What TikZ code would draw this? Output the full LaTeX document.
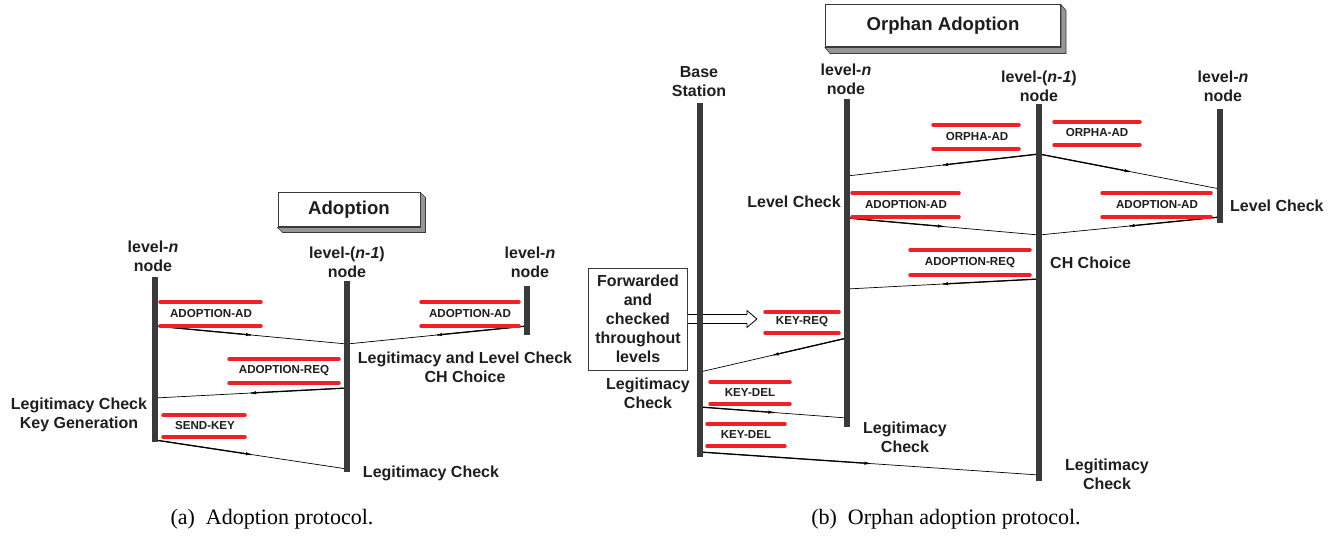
\documentclass[tikz,border=0pt]{standalone}
\usepackage{fontspec}
\setmainfont{Liberation Sans}
\newfontfamily\capfont{Liberation Serif}
\usepackage{tikz}
\usetikzlibrary{arrows.meta, positioning, decorations.markings, calc}
\definecolor{lifecolor}{RGB}{58,58,58}
\definecolor{barcolor}{RGB}{237,33,39}
\definecolor{inkcolor}{RGB}{30,30,30}
\definecolor{shadecolor}{RGB}{150,150,150}

\tikzset{
  lbl/.style={font=\bfseries\fontsize{16}{19}\selectfont, align=center, text=inkcolor, inner sep=0pt},
  msglbl/.style={font=\bfseries\fontsize{11.6}{13}\selectfont, text=inkcolor, inner sep=0pt},
  lifeline/.style={draw=lifecolor, line width=6.5pt},
  redbar/.style={draw=barcolor, line width=3.5pt, line cap=round},
  msg/.style={draw=black, line width=0.7pt, postaction={decorate},
    decoration={markings, mark=at position 0.5 with {\arrow{Latex[length=5pt,width=3.5pt]}}}},
  msgbold/.style={draw=black, line width=1.3pt},
  titlebox/.style={draw=lifecolor, line width=1pt, fill=white, text=inkcolor,
    font=\bfseries\fontsize{18.6}{22}\selectfont},
  boxshade/.style={fill=shadecolor, draw=lifecolor, line width=0.6pt},
  caption/.style={font=\capfont\fontsize{22}{26}\selectfont, inner sep=0pt}
}

% message: thin line, bolder up to the arrowhead
\newcommand{\sendmsg}[2]{%
  \draw[msg] (#1) -- (#2);
  \draw[msgbold] (#1) -- ($(#1)!0.5!(#2)$);}

\begin{document}
\begin{tikzpicture}[x=1pt, y=-1pt]
    \useasboundingbox (0,0) rectangle (1339,540);

    %%%%% (a) Adoption %%%%%
    % Title
    \node[titlebox, minimum width=142, minimum height=34] (adTitle) at (349,210) {Adoption};
    \fill[boxshade] (adTitle.south west) -- ($(adTitle.south west)+(5,5)$) -- ($(adTitle.south east)+(5,5)$)
        -- ($(adTitle.north east)+(5,5)$) -- (adTitle.north east) -- (adTitle.south east) -- cycle;

    % Participants
    \node[lbl] (adLeft) at (153,256) {level-\textit{n}\\node};
    \node[lbl] (adMid) at (347,262) {level-(\textit{n-1})\\node};
    \node[lbl] (adRight) at (530,262) {level-\textit{n}\\node};

    % Message end points
    \coordinate (adL1) at (155,326);
    \coordinate (adR1) at (527,326);
    \coordinate (adM1) at (347,344);
    \coordinate (adM2) at (347,388);
    \coordinate (adL2) at (155,398);
    \coordinate (adL3) at (155,440);
    \coordinate (adM3) at (347,469);

    % Messages
    \sendmsg{adL1}{adM1}
    \sendmsg{adR1}{adM1}
    \sendmsg{adM2}{adL2}
    \sendmsg{adL3}{adM3}

    % Lifelines
    \draw[lifeline] (155,277) -- (155,442);
    \draw[lifeline] (347,281) -- (347,472);
    \draw[lifeline] (527,286) -- (527,335);

    % Message labels
    \draw[redbar] (160,302) -- (261,302);
    \draw[redbar] (160,326) -- (261,326);
    \node[msglbl] (adAdL) at (211,314) {ADOPTION-AD};
    \draw[redbar] (421,302) -- (519,302);
    \draw[redbar] (421,326) -- (519,326);
    \node[msglbl] (adAdR) at (470,314) {ADOPTION-AD};
    \draw[redbar] (229,359) -- (339,359);
    \draw[redbar] (229,383) -- (339,383);
    \node[msglbl] (adReq) at (284,371) {ADOPTION-REQ};
    \draw[redbar] (163,415) -- (245,415);
    \draw[redbar] (163,437) -- (245,437);
    \node[msglbl] (adSend) at (205,426) {SEND-KEY};

    % Checks
    \node[lbl] (adCheckMid) at (465,367) {Legitimacy and Level Check\\CH Choice};
    \node[lbl] (adCheckLeft) at (79,415) {Legitimacy Check\\Key Generation};
    \node[lbl] (adCheckEnd) at (431,473) {Legitimacy Check};

    \node[caption] (adCap) at (272,519) {(a)\enspace Adoption protocol.};

    %%%%% (b) Orphan adoption %%%%%
    % Title
    \node[titlebox, minimum width=235, minimum height=42] (orTitle) at (943,26) {Orphan Adoption};
    \fill[boxshade] (orTitle.south west) -- ($(orTitle.south west)+(5,6)$) -- ($(orTitle.south east)+(5,6)$)
        -- ($(orTitle.north east)+(5,6)$) -- (orTitle.north east) -- (orTitle.south east) -- cycle;

    % Participants
    \node[lbl] (orBase) at (699,82) {Base\\Station};
    \node[lbl] (orLeft) at (846,79) {level-\textit{n}\\node};
    \node[lbl] (orMid) at (1039,86) {level-(\textit{n-1})\\node};
    \node[lbl] (orRight) at (1223,86) {level-\textit{n}\\node};

    % Message end points
    \coordinate (orM1) at (1039,154);
    \coordinate (orL1) at (847,176);
    \coordinate (orR1) at (1220,189);
    \coordinate (orL2) at (847,218);
    \coordinate (orR2) at (1220,217);
    \coordinate (orM2) at (1039,235);
    \coordinate (orM3) at (1039,279);
    \coordinate (orL3) at (847,289);
    \coordinate (orL4) at (847,338);
    \coordinate (orB1) at (700,372);
    \coordinate (orB2) at (700,407);
    \coordinate (orL5) at (847,418);
    \coordinate (orB3) at (700,452);
    \coordinate (orM4) at (1039,475);

    % Messages
    \sendmsg{orM1}{orL1}
    \sendmsg{orM1}{orR1}
    \sendmsg{orL2}{orM2}
    \sendmsg{orR2}{orM2}
    \sendmsg{orM3}{orL3}
    \sendmsg{orL4}{orB1}
    \sendmsg{orB2}{orL5}
    \sendmsg{orB3}{orM4}

    % Forwarded note with hollow arrow
    \node[draw=lifecolor, line width=0.8pt, fill=white, minimum width=99, minimum height=102, inner sep=0pt]
        (orNote) at (638,319) {};
    \node[lbl, text width=99] at (orNote.center) {Forwarded\\and\\checked\\throughout\\levels};
    \draw[line width=0.8pt, fill=white] ($(orNote.east)+(0,-4.5)$) -- ++(59,0) -- ++(0,-4) -- ++(10,8.5)
        -- ++(-10,8.5) -- ++(0,-4) -- ++(-59,0);

    % Lifelines
    \draw[lifeline] (700,103) -- (700,457);
    \draw[lifeline] (847,99) -- (847,427);
    \draw[lifeline] (1039,104) -- (1039,481);
    \draw[lifeline] (1220,109) -- (1220,223);

    % Message labels
    \draw[redbar] (933,125) -- (1019,125);
    \draw[redbar] (933,149) -- (1019,149);
    \node[msglbl] (orOrphL) at (977,137) {ORPHA-AD};
    \draw[redbar] (1054,122) -- (1140,122);
    \draw[redbar] (1054,145) -- (1140,145);
    \node[msglbl] (orOrphR) at (1097,133) {ORPHA-AD};
    \draw[redbar] (852,193) -- (959,193);
    \draw[redbar] (852,217) -- (959,217);
    \node[msglbl] (orAdL) at (906,205) {ADOPTION-AD};
    \draw[redbar] (1102,193) -- (1211,193);
    \draw[redbar] (1102,217) -- (1211,217);
    \node[msglbl] (orAdR) at (1157,205) {ADOPTION-AD};
    \draw[redbar] (910,250) -- (1030,250);
    \draw[redbar] (910,275) -- (1030,275);
    \node[msglbl] (orReq) at (970,263) {ADOPTION-REQ};
    \draw[redbar] (765,312) -- (839,312);
    \draw[redbar] (765,333) -- (839,333);
    \node[msglbl] (orKeyReq) at (802,322) {KEY-REQ};
    \draw[redbar] (710,382) -- (790,382);
    \draw[redbar] (710,404) -- (790,404);
    \node[msglbl] (orDel1) at (750,393) {KEY-DEL};
    \draw[redbar] (707,424) -- (785,424);
    \draw[redbar] (707,446) -- (785,446);
    \node[msglbl] (orDel2) at (746,435) {KEY-DEL};

    % Checks
    \node[lbl, anchor=east] (orLvlL) at (841,202) {Level Check};
    \node[lbl, anchor=west] (orLvlR) at (1230,206) {Level Check};
    \node[lbl, anchor=west] (orChoice) at (1050,263) {CH Choice};
    \node[lbl] (orCheckB) at (648,393) {Legitimacy\\Check};
    \node[lbl] (orCheckL) at (905,437) {Legitimacy\\Check};
    \node[lbl] (orCheckM) at (1107,474) {Legitimacy\\Check};

    \node[caption] (orCap) at (946,519) {(b)\enspace Orphan adoption protocol.};
\end{tikzpicture}
\end{document}
